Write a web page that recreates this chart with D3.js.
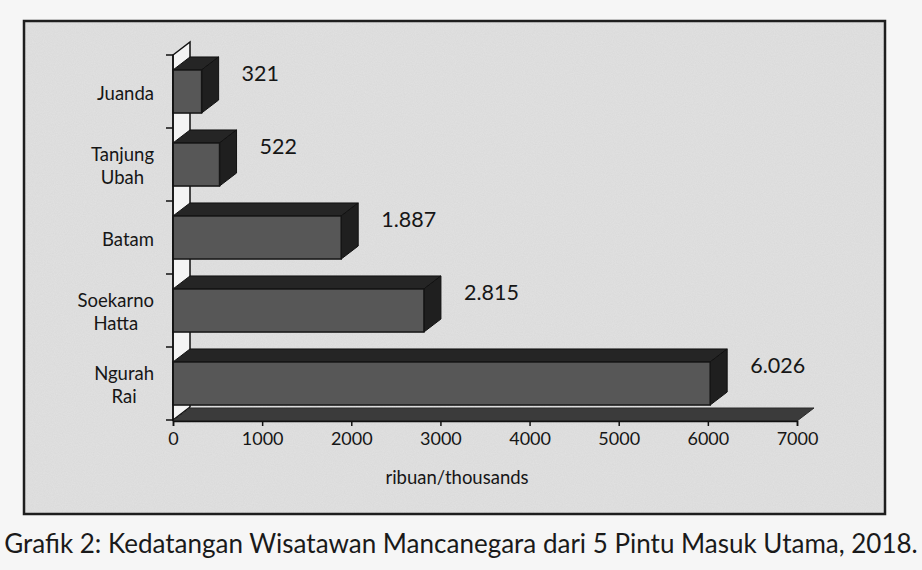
<!DOCTYPE html>
<html>
<head>
<meta charset="utf-8">
<script src="https://cdn.jsdelivr.net/npm/d3@7"></script>
<style>
  body { margin: 0; background: #f6f6f6; }
  svg { display: block; font-family: Lato, Carlito, Calibri, sans-serif; }
</style>
</head>
<body>
<svg width="922" height="570"></svg>
<script>
// airports, top to bottom as drawn
var airports = [["Juanda"], ["Tanjung", "Ubah"], ["Batam"], ["Soekarno", "Hatta"], ["Ngurah", "Rai"]];
var arrivals = [321, 522, 1887, 2815, 6026];   // ribuan / thousands
var xTicks = [0, 1000, 2000, 3000, 4000, 5000, 6000, 7000];
var axisTitle = "ribuan/thousands";
var caption = "Grafik 2: Kedatangan Wisatawan Mancanegara dari 5 Pintu Masuk Utama, 2018.";

var svg = d3.select("svg");

var idn = d3.formatLocale({decimal: ",", thousands: ".", grouping: [3], currency: ["Rp", ""]});
var fmt = idn.format(",d");

// 3d depth offset
var dx = 17, dy = 13;

var names = airports.map(d => d.join(" "));

var x = d3.scaleLinear().domain([0, 7000]).range([173, 797]);
var y = d3.scaleBand().domain(names).range([55, 420])
  .paddingInner(0.41).paddingOuter(0.205);
var step = y.step();

// grain like the scanned page
var defs = svg.append("defs");
var grain = defs.append("filter").attr("id", "grain").attr("x", 0).attr("y", 0).attr("width", 1).attr("height", 1);
grain.append("feTurbulence").attr("type", "fractalNoise").attr("baseFrequency", 0.9).attr("numOctaves", 2).attr("seed", 3).attr("result", "n");
grain.append("feColorMatrix").attr("in", "n").attr("type", "matrix")
  .attr("values", "0 0 0 0 0  0 0 0 0 0  0 0 0 0 0  0 0 0 0.09 0").attr("result", "a");
grain.append("feComposite").attr("in", "a").attr("in2", "SourceGraphic").attr("operator", "atop");

// chart frame
svg.append("rect")
  .attr("x", 24).attr("y", 21).attr("width", 861).attr("height", 493)
  .attr("fill", "#e2e2e2").attr("filter", "url(#grain)");
svg.append("rect")
  .attr("x", 24).attr("y", 21).attr("width", 861).attr("height", 493)
  .attr("fill", "none").attr("stroke", "#1e1e1e").attr("stroke-width", 2.5);

var g = svg.append("g");

// back wall
var yTop = 55, yBot = 420;
g.append("path")
  .attr("d", d3.line()([[x(0), yTop], [x(0) + dx, yTop - dy], [x(0) + dx, yBot - dy], [x(0), yBot]]) + "Z")
  .attr("fill", "#f4f4f4").attr("stroke", "#111").attr("stroke-width", 1.5);

// floor
g.append("path")
  .attr("d", d3.line()([[x(0), yBot + 1], [x(0) + dx, yBot + 1 - dy], [x(7000) + dx, yBot + 1 - dy], [x(7000), yBot + 1]]) + "Z")
  .attr("fill", "#3b3b3b").attr("stroke", "#2a2a2a").attr("stroke-width", 1);

// bars
var bars = g.selectAll(".bar").data(names).enter().append("g").attr("class", "bar");

bars.append("path") // top face
  .attr("d", (d, i) => {
    var y0 = y(d), x0 = x(0), x1 = x(arrivals[i]);
    return d3.line()([[x0, y0], [x0 + dx, y0 - dy], [x1 + dx, y0 - dy], [x1, y0]]) + "Z";
  })
  .attr("fill", "#252525").attr("stroke", "#111").attr("stroke-width", 1);

bars.append("path") // side face
  .attr("d", (d, i) => {
    var y0 = y(d), h = y.bandwidth(), x1 = x(arrivals[i]);
    return d3.line()([[x1, y0], [x1 + dx, y0 - dy], [x1 + dx, y0 + h - dy], [x1, y0 + h]]) + "Z";
  })
  .attr("fill", "#1f1f1f").attr("stroke", "#111").attr("stroke-width", 1);

bars.append("rect") // front face
  .attr("x", x(0))
  .attr("y", d => y(d))
  .attr("width", (d, i) => x(arrivals[i]) - x(0))
  .attr("height", y.bandwidth())
  .attr("fill", "#575757").attr("stroke", "#151515").attr("stroke-width", 1.5);

// value labels
bars.append("text")
  .attr("x", (d, i) => x(arrivals[i]) + 40)
  .attr("y", d => y(d) + 11)
  .attr("font-size", 21.5).attr("fill", "#161616")
  .text((d, i) => fmt(arrivals[i]));

// y axis (category boundaries)
var yAx = g.append("g");
yAx.append("line")
  .attr("x1", x(0)).attr("x2", x(0)).attr("y1", yTop).attr("y2", yBot + 1)
  .attr("stroke", "#111").attr("stroke-width", 1.5);
yAx.selectAll(".tk").data(d3.range(names.length + 1)).enter().append("line")
  .attr("x1", x(0) - 7).attr("x2", x(0))
  .attr("y1", i => yTop + i * step).attr("y2", i => yTop + i * step)
  .attr("stroke", "#111").attr("stroke-width", 1.5);

// category labels, multi-line centred, block right aligned
var lineH = 23;
yAx.selectAll(".cat").data(airports).enter().append("text")
  .attr("font-size", 18.5).attr("fill", "#161616")
  .each(function(lines, i) {
    var t = d3.select(this);
    var cy = yTop + (i + 0.5) * step;
    var first = cy - (lines.length - 1) * lineH / 2 + 8;
    lines.forEach((s, k) => {
      t.append("tspan").attr("y", first + k * lineH).attr("text-anchor", "middle").text(s);
    });
    var w = 0;
    t.selectAll("tspan").each(function() { w = Math.max(w, this.getComputedTextLength()); });
    t.selectAll("tspan").attr("x", 154 - w / 2);
  });

// x axis
var xAxis = d3.axisBottom(x).tickValues(xTicks).tickFormat(d3.format("d"))
  .tickSize(5).tickPadding(6);
var xg = g.append("g").attr("transform", "translate(0," + (yBot + 1) + ")").call(xAxis);
xg.select(".domain").attr("stroke", "#111").attr("stroke-width", 1.5);
xg.selectAll(".tick line").attr("stroke", "#111").attr("stroke-width", 1.5);
xg.selectAll(".tick text").attr("font-size", 18).attr("fill", "#161616")
  .attr("font-family", "Lato, Carlito, Calibri, sans-serif");

g.append("text")
  .attr("x", 457).attr("y", 484)
  .attr("text-anchor", "middle").attr("font-size", 18.5).attr("fill", "#161616")
  .text(axisTitle);

// caption under the frame
svg.append("text")
  .attr("x", 461).attr("y", 553)
  .attr("text-anchor", "middle").attr("font-size", 26).attr("fill", "#1a1a1a")
  .text(caption);
</script>
</body>
</html>
